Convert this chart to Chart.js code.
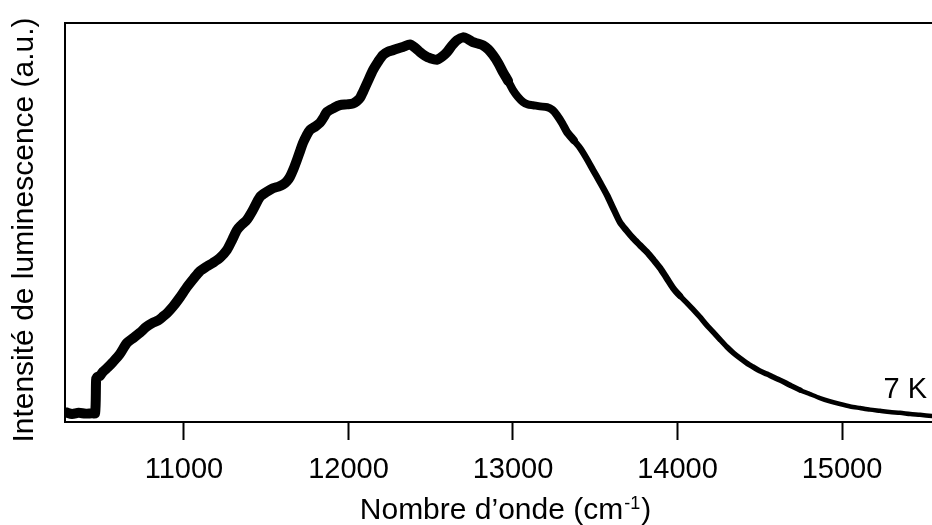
<!DOCTYPE html>
<html>
<head>
<meta charset="utf-8">
<script src="https://cdn.jsdelivr.net/npm/chart.js@4/dist/chart.umd.min.js"></script>
<style>
  html, body { margin: 0; padding: 0; background: #ffffff; }
  #wrap { width: 932px; height: 525px; position: relative; }
</style>
</head>
<body>
<div id="wrap"><canvas id="c" width="932" height="525"></canvas></div>
<script>
// Wavenumber (cm^-1)
const wavenumbers = [
  10285, 10320, 10360, 10400, 10440, 10460, 10466, 10471, 10490, 10508, 10540, 10568, 10610, 10653,
  10690, 10733, 10770, 10812, 10845, 10872, 10900, 10933, 10975, 11018, 11060, 11097, 11140, 11176,
  11220, 11261, 11295, 11322, 11350, 11383, 11420, 11462, 11500, 11541, 11575, 11602, 11625, 11644,
  11665, 11687, 11705, 11723, 11745, 11766, 11800, 11827, 11850, 11869, 11910, 11948, 11990, 12027,
  12050, 12070, 12088, 12120, 12149, 12180, 12210, 12240, 12271, 12300, 12331, 12374, 12405, 12435,
  12465, 12495, 12538, 12570, 12599, 12630, 12660, 12696, 12725, 12757, 12790, 12818, 12850, 12878,
  12910, 12939, 12970, 13000, 13030, 13061, 13090, 13122, 13165, 13207, 13240, 13267, 13300, 13328,
  13370, 13407, 13445, 13486, 13530, 13571, 13610, 13650, 13690, 13729, 13770, 13814, 13855, 13894,
  13935, 13973, 14015, 14058, 14100, 14137, 14175, 14216, 14260, 14301, 14340, 14380, 14420, 14459,
  14500, 14544, 14585, 14623, 14685, 14745, 14805, 14866, 14925, 14988, 15050, 15110, 15170, 15231,
  15290, 15353, 15415, 15474, 15547
];
// Luminescence intensity (a.u., 0-100)
const intensity = [
  2.4, 2.0, 2.3, 2.1, 2.2, 2.2, 10.5, 11.2, 11.6, 12.6, 13.8, 15.0, 17.0, 19.8,
  21.0, 22.4, 23.8, 24.9, 25.5, 26.4, 27.4, 28.9, 31.2, 33.8, 36.0, 37.8, 39.0, 39.9,
  41.2, 43.1, 45.8, 48.1, 49.4, 50.7, 53.2, 56.4, 57.6, 58.6, 59.0, 59.5, 60.3, 61.4,
  63.3, 65.7, 67.8, 69.9, 71.8, 73.2, 74.1, 75.0, 76.4, 77.7, 78.7, 79.4, 79.6, 79.8,
  80.4, 81.2, 82.7, 85.6, 88.2, 90.3, 92.0, 92.8, 93.2, 93.6, 94.0, 94.6, 93.8, 92.7,
  91.8, 91.2, 90.8, 91.6, 92.7, 94.4, 95.7, 96.4, 96.0, 95.2, 94.8, 94.4, 93.4, 92.0,
  90.0, 87.7, 85.5, 83.2, 81.5, 80.2, 79.6, 79.4, 79.1, 78.9, 78.2, 76.9, 74.8, 72.7,
  70.6, 68.7, 66.2, 63.2, 60.0, 56.9, 53.5, 50.1, 48.0, 46.1, 44.4, 42.6, 40.6, 38.6,
  36.0, 33.6, 31.6, 29.8, 28.0, 26.3, 24.4, 22.6, 20.6, 18.8, 17.3, 16.0, 14.8, 13.8,
  12.8, 12.0, 11.2, 10.5, 9.2, 8.0, 7.0, 6.0, 5.2, 4.5, 3.9, 3.5, 3.1, 2.8,
  2.5, 2.3, 2.0, 1.8, 1.5
];
// Tick labels of the x axis
const xTickValues = [11000, 12000, 13000, 14000, 15000];

const xTitleMain = "Nombre d\u2019onde (cm";
const xTitleSup = "-1";
const xTitleEnd = ")";
const yTitle = "Intensit\u00e9 de luminescence (a.u.)";
const seriesLabel = "7 K";

const FONT = "'Liberation Sans', Arial, Helvetica, sans-serif";

const points = wavenumbers.map((w, i) => ({ x: w, y: intensity[i] }));

function widthFor(w) {
  if (w < 12950) return 10;
  if (w < 13350) return 8;
  if (w < 14000) return 6.5;
  if (w < 14700) return 5.5;
  return 4.5;
}

const decorPlugin = {
  id: 'decor',
  afterDraw(chart) {
    const ctx = chart.ctx;
    const a = chart.chartArea;
    ctx.save();
    // top frame line
    ctx.strokeStyle = '#000';
    ctx.lineWidth = 2;
    ctx.beginPath();
    ctx.moveTo(a.left - 1, a.top);
    ctx.lineTo(chart.width, a.top);
    ctx.stroke();

    ctx.fillStyle = '#000';
    // x title with superscript
    ctx.textBaseline = 'alphabetic';
    ctx.textAlign = 'left';
    ctx.font = '30px ' + FONT;
    const w1 = ctx.measureText(xTitleMain).width;
    ctx.font = '18px ' + FONT;
    const w2 = ctx.measureText(xTitleSup).width;
    ctx.font = '30px ' + FONT;
    const w3 = ctx.measureText(xTitleEnd).width;
    const total = w1 + w2 + 1 + w3;
    let x0 = 505 - total / 2;
    const base = 519;
    ctx.font = '30px ' + FONT;
    ctx.fillText(xTitleMain, x0, base);
    ctx.font = '18px ' + FONT;
    ctx.fillText(xTitleSup, x0 + w1 + 1, base - 10);
    ctx.font = '30px ' + FONT;
    ctx.fillText(xTitleEnd, x0 + w1 + w2 + 2, base);

    // y title rotated
    ctx.save();
    ctx.translate(33, 230);
    ctx.rotate(-Math.PI / 2);
    ctx.textAlign = 'center';
    ctx.textBaseline = 'alphabetic';
    ctx.font = '30px ' + FONT;
    ctx.fillText(yTitle, 0, 0);
    ctx.restore();

    // series label
    ctx.textAlign = 'right';
    ctx.textBaseline = 'alphabetic';
    ctx.font = '29px ' + FONT;
    ctx.fillText(seriesLabel, 927, 398);
    ctx.restore();
  }
};

new Chart(document.getElementById('c'), {
  type: 'line',
  data: {
    datasets: [{
      label: seriesLabel,
      data: points,
      borderColor: '#000',
      backgroundColor: '#000',
      borderWidth: 6,
      pointRadius: 0,
      tension: 0.25,
      borderJoinStyle: 'round',
      borderCapStyle: 'round',
      segment: {
        borderWidth: ctx => widthFor(ctx.p0.parsed.x)
      }
    }]
  },
  options: {
    responsive: false,
    animation: false,
    events: [],
    layout: { padding: { top: 23, right: 0, left: 0, bottom: 0 } },
    plugins: {
      legend: { display: false },
      tooltip: { enabled: false },
      title: { display: false }
    },
    scales: {
      x: {
        type: 'linear',
        position: 'bottom',
        min: 10277,
        max: 15547,
        border: { display: true, color: '#000', width: 2 },
        grid: {
          drawOnChartArea: false,
          drawTicks: true,
          tickLength: 18,
          tickWidth: 2,
          tickColor: '#000',
          color: '#000'
        },
        ticks: {
          color: '#000',
          font: { family: FONT, size: 29 },
          padding: 13,
          maxRotation: 0,
          autoSkip: false,
          callback: v => String(v)
        },
        afterBuildTicks: axis => { axis.ticks = xTickValues.map(v => ({ value: v })); },
        afterFit: axis => { axis.height = 103; }
      },
      y: {
        type: 'linear',
        min: 0,
        max: 100,
        border: { display: true, color: '#000', width: 2 },
        grid: { drawOnChartArea: false, drawTicks: false },
        ticks: { display: false },
        afterFit: axis => { axis.width = 65; }
      }
    }
  },
  plugins: [decorPlugin]
});
</script>
</body>
</html>
